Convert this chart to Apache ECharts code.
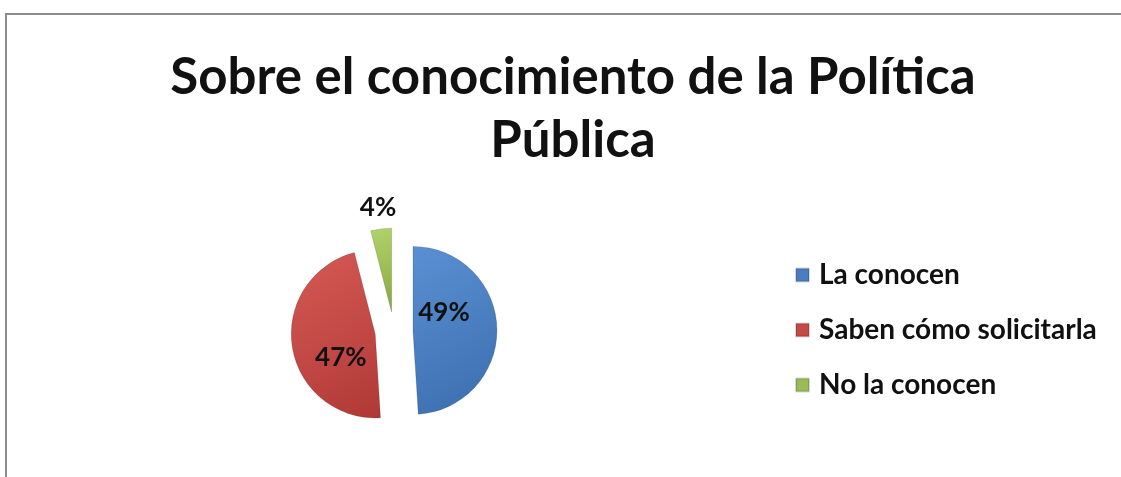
<!DOCTYPE html>
<html>
<head>
<meta charset="utf-8">
<script src="https://cdn.jsdelivr.net/npm/echarts@6/dist/echarts.min.js"></script>
<style>
  html, body { margin: 0; padding: 0; background: #fff; }
  .frame {
    position: absolute; left: 5px; top: 13px; width: 1130px; height: 480px;
    border: 2px solid #8c8c8c; box-sizing: border-box;
  }
  #chart { position: absolute; left: 0; top: 0; width: 1121px; height: 477px; }
</style>
</head>
<body>
<div class="frame"></div>
<div id="chart"></div>
<script>
// datos
const categories = ["La conocen", "Saben cómo solicitarla", "No la conocen"]
const values = [49, 47, 4]
const labels = ["49%", "47%", "4%"]

const grad = (light, dark) => ({
  type: "linear", x: 0, y: 0, x2: 1, y2: 1,
  colorStops: [
    { offset: 0, color: light },
    { offset: 1, color: dark }
  ]
})
const colors = [
  grad("#5a90d3", "#3a6dae"),
  grad("#d65a56", "#b03935"),
  grad("#b0d36a", "#86a83f")
]
const legendColors = ["#4a7ebf", "#c44a46", "#9bbb59"]
// desplazamiento de cada etiqueta respecto a su posición por defecto
const labelOffsets = [[-14, -16], [10, 17], [52, -6]]

const chart = echarts.init(document.getElementById("chart"))
const data = values.map((v, i) => ({
  name: categories[i],
  value: v,
  selected: true,
  itemStyle: {
    color: colors[i],
    borderColor: "rgba(0,0,0,0.15)",
    borderWidth: 1
  },
  label: i === 2
    ? { position: "outside", distance: 8 }
    : { position: "inside" }
}))

chart.setOption({
  animation: false,
  title: {
    text: "Sobre el conocimiento de la Política\nPública",
    left: 568,
    top: 41,
    textAlign: "center",
    textStyle: {
      fontFamily: "Lato",
      fontWeight: "bold",
      fontSize: 51,
      lineHeight: 63,
      color: "#111"
    }
  },
  legend: {
    orient: "vertical",
    left: 790,
    top: 256,
    itemGap: 27,
    itemWidth: 13,
    itemHeight: 13,
    icon: "rect",
    data: categories.map((c, i) => ({ name: c, itemStyle: { color: legendColors[i] } })),
    selectedMode: false,
    textStyle: {
      fontFamily: "Lato",
      fontWeight: "bold",
      fontSize: 28,
      color: "#111",
      padding: [0, 0, 0, 5]
    }
  },
  series: [
    {
      type: "pie",
      center: [394, 331],
      radius: 84,
      startAngle: 90,
      clockwise: true,
      selectedMode: "multiple",
      selectedOffset: 19,
      avoidLabelOverlap: false,
      labelLine: { show: false },
      label: {
        formatter: (p) => labels[p.dataIndex],
        fontFamily: "Lato",
        fontWeight: "bold",
        fontSize: 26,
        color: "#111"
      },
      labelLayout: (p) => ({
        dx: labelOffsets[p.dataIndex][0],
        dy: labelOffsets[p.dataIndex][1]
      }),
      emphasis: { disabled: true },
      data: data
    }
  ]
})
</script>
</body>
</html>
